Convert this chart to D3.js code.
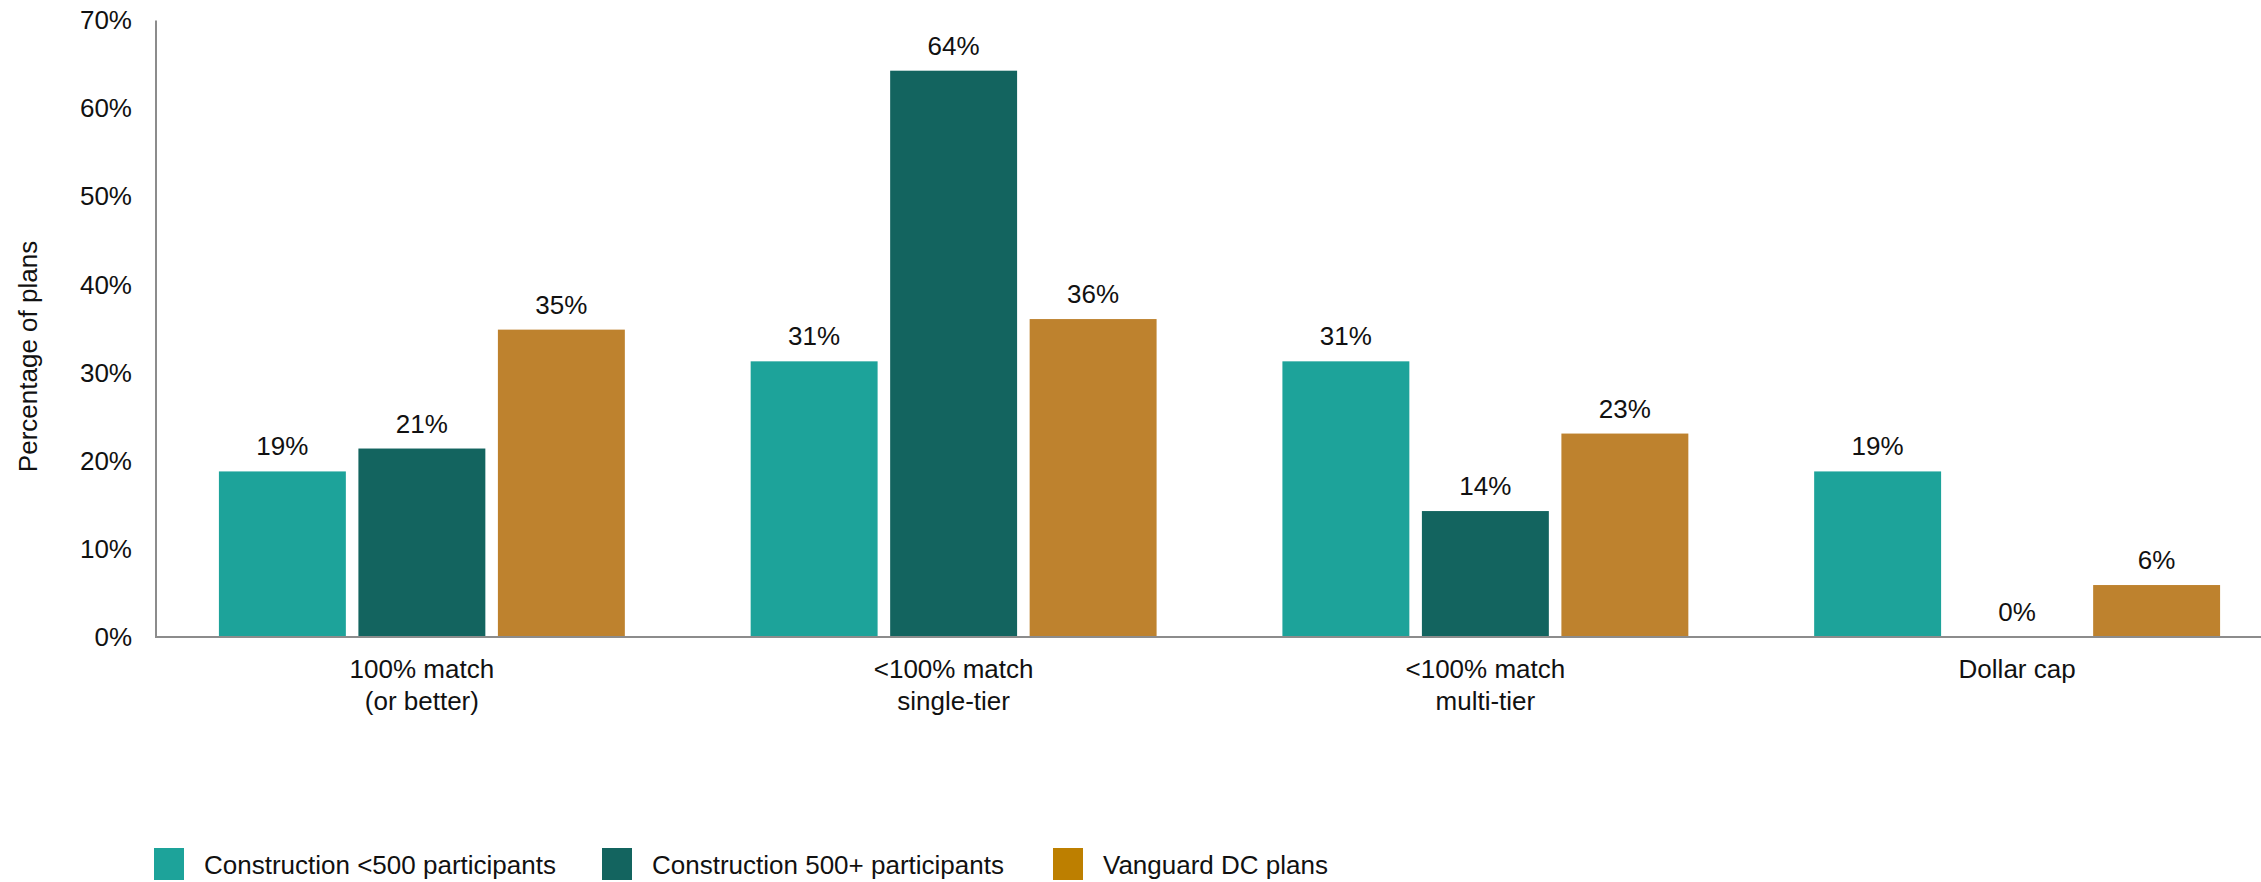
<!DOCTYPE html>
<html>
<head>
<meta charset="utf-8">
<script src="https://cdn.jsdelivr.net/npm/d3@7"></script>
<style>
  html, body { margin: 0; padding: 0; background: #fff; }
  svg { display: block; font-family: "Liberation Sans", Arial, sans-serif; }
</style>
</head>
<body>
<svg id="chart" width="2261" height="882"></svg>
<script>
const categories = [["100% match", "(or better)"], ["<100% match", "single-tier"], ["<100% match", "multi-tier"], ["Dollar cap"]];
const seriesNames = ["Construction <500 participants", "Construction 500+ participants", "Vanguard DC plans"];
const constructionSmall = [18.8, 31.3, 31.3, 18.8];
const constructionLarge = [21.4, 64.3, 14.3, 0];
const vanguardDC = [34.9, 36.1, 23.1, 5.9];
const yTicks = [0, 10, 20, 30, 40, 50, 60, 70];
const barColors = ["#1DA39A", "#13645F", "#BE822E"];
const legendColors = ["#1DA39A", "#13645F", "#BD7F00"];

const seriesValues = [constructionSmall, constructionLarge, vanguardDC];
const catKeys = categories.map(c => c.join(" "));

const svg = d3.select("#chart");
const x0 = d3.scaleBand().domain(catKeys).range([156, 2283]).paddingInner(0).paddingOuter(0);
const x1 = d3.scaleBand().domain(seriesNames).range([0, x0.bandwidth()]).paddingInner(0.09).paddingOuter(0.451);
const y = d3.scaleLinear().domain([0, 70]).range([637, 20.5]);

// Y axis tick labels
const yAxis = d3.axisLeft(y).tickValues(yTicks).tickFormat(d => d + "%").tickSize(0).tickPadding(24);
const yg = svg.append("g").attr("transform", "translate(156,0)").call(yAxis);
yg.select(".domain").remove();
yg.selectAll("text").attr("font-size", 26).attr("fill", "#111").attr("font-family", "Liberation Sans, Arial, sans-serif");

// Y axis title
svg.append("text")
  .attr("transform", "translate(28," + ((240 + 473) / 2) + ") rotate(-90)")
  .attr("text-anchor", "middle").attr("dominant-baseline", "central")
  .attr("font-size", 26).attr("fill", "#111")
  .text("Percentage of plans");

// Bars
const groups = svg.append("g").selectAll("g").data(catKeys).join("g")
  .attr("transform", d => "translate(" + x0(d) + ",0)");

groups.each(function(cat, ci) {
  const g = d3.select(this);
  seriesNames.forEach((s, si) => {
    const v = seriesValues[si][ci];
    if (v > 0) {
      g.append("rect")
        .attr("x", x1(s)).attr("width", x1.bandwidth())
        .attr("y", y(v)).attr("height", y(0) - y(v))
        .attr("fill", barColors[si]);
    }
    g.append("text")
      .attr("x", x1(s) + x1.bandwidth() / 2)
      .attr("y", y(v) - 16)
      .attr("text-anchor", "middle")
      .attr("font-size", 26).attr("fill", "#111")
      .text(Math.round(v) + "%");
  });
});

// Axis lines
svg.append("line").attr("x1", 156).attr("x2", 156).attr("y1", y(70)).attr("y2", y(0))
  .attr("stroke", "#8c8c8c").attr("stroke-width", 2);
svg.append("line").attr("x1", 155).attr("x2", 2261).attr("y1", y(0)).attr("y2", y(0))
  .attr("stroke", "#8c8c8c").attr("stroke-width", 2);

// Category labels
categories.forEach((lines, i) => {
  const cx = x0(catKeys[i]) + x0.bandwidth() / 2;
  const t = svg.append("text").attr("text-anchor", "middle").attr("font-size", 26).attr("fill", "#111");
  lines.forEach((ln, li) => {
    t.append("tspan").attr("x", cx).attr("y", 678 + li * 32).text(ln);
  });
});

// Legend
const legendX = [154, 602, 1053];
seriesNames.forEach((s, i) => {
  svg.append("rect").attr("x", legendX[i]).attr("y", 848).attr("width", 30).attr("height", 32)
    .attr("fill", legendColors[i]);
  svg.append("text").attr("x", legendX[i] + 50).attr("y", 865)
    .attr("dominant-baseline", "central")
    .attr("font-size", 26).attr("fill", "#111").text(s);
});
</script>
</body>
</html>
